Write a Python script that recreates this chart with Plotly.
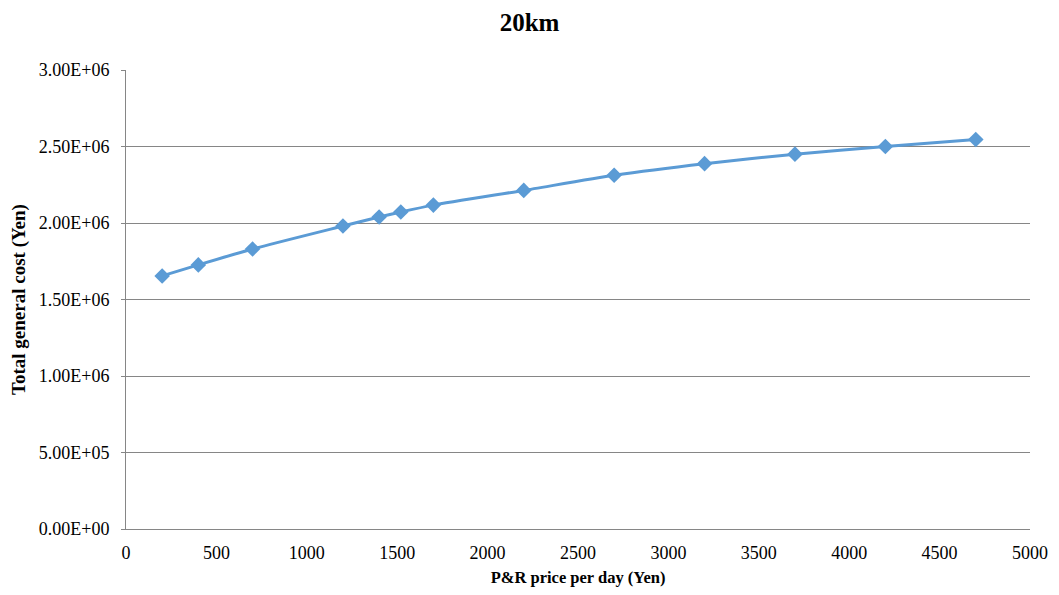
import plotly.graph_objects as go

price = [200, 400, 700, 1200, 1400, 1520, 1700, 2200, 2700, 3200, 3700, 4200, 4700]
cost = [1.654e6, 1.726e6, 1.830e6, 1.980e6, 2.039e6, 2.072e6, 2.117e6,
        2.213e6, 2.312e6, 2.388e6, 2.450e6, 2.500e6, 2.546e6]
y_ticks = [0, 5e5, 1e6, 1.5e6, 2e6, 2.5e6, 3e6]
y_labels = ["0.00E+00", "5.00E+05", "1.00E+06", "1.50E+06", "2.00E+06", "2.50E+06", "3.00E+06"]
x_ticks = [0, 500, 1000, 1500, 2000, 2500, 3000, 3500, 4000, 4500, 5000]

font = "Liberation Serif"
fig = go.Figure()
fig.add_trace(go.Scatter(
    x=price, y=cost, mode="lines+markers",
    line=dict(color="#5B9BD5", width=3, shape="spline", smoothing=0.6),
    marker=dict(symbol="diamond", size=12, color="#5B9BD5"),
    showlegend=False,
))
fig.update_layout(
    width=1059, height=595,
    margin=dict(l=126, r=29, t=70, b=66),
    paper_bgcolor="white", plot_bgcolor="white",
    title=dict(text="<b>20km</b>", x=0.5, xanchor="center", y=0.962, yanchor="middle",
               font=dict(family=font, size=25, color="black")),
    font=dict(family=font, size=18, color="black"),
    xaxis=dict(
        range=[0, 5000], tickmode="array", tickvals=x_ticks, showgrid=False, zeroline=False,
        showline=True, linecolor="#868686", linewidth=1,
        ticks="", ticklabelstandoff=7, tickfont=dict(family=font, size=18, color="black"),
        title=dict(text="<b>P&R price per day (Yen)</b>", font=dict(family=font, size=16.5, color="black"), standoff=9),
    ),
    yaxis=dict(
        range=[0, 3e6], tickmode="array", tickvals=y_ticks, ticktext=y_labels,
        showgrid=True, gridcolor="#868686", gridwidth=1, zeroline=False,
        showline=True, linecolor="#868686", linewidth=1,
        ticks="outside", ticklen=4, tickcolor="#868686", ticklabelstandoff=8,
        tickfont=dict(family=font, size=18, color="black"),
        title=dict(text="<b>Total general cost (Yen)</b>", font=dict(family=font, size=19, color="black"), standoff=8),
    ),
)
fig.write_html("out.html")
